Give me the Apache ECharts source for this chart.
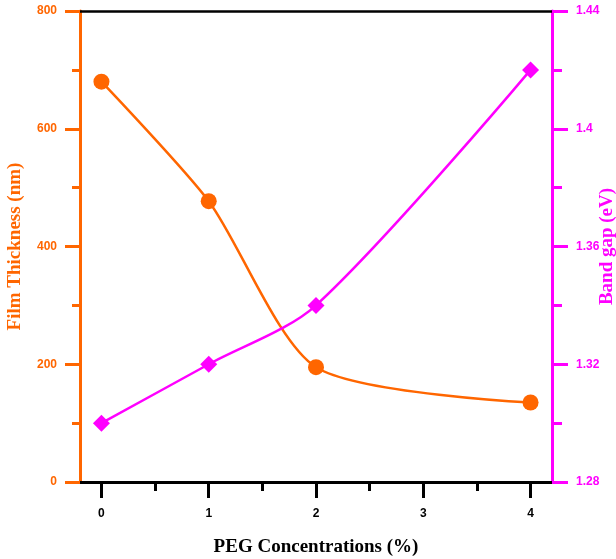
<!DOCTYPE html>
<html>
<head>
<meta charset="utf-8">
<script src="https://cdn.jsdelivr.net/npm/echarts@6/dist/echarts.min.js"></script>
<style>html,body{margin:0;padding:0;background:#fff;}#c{width:616px;height:559px;}</style>
</head>
<body>
<div id="c"></div>
<script>
var concentrations = [0, 1, 2, 4];
var thickness = [680, 477, 195, 135];
var bandGap = [1.30, 1.32, 1.34, 1.42];
var xMajorTicks = [0, 1, 2, 3, 4];
var xMinorTicks = [0.5, 1.5, 2.5, 3.5];

var ORANGE = '#FF6600';
var MAGENTA = '#FF00FF';

var chart = echarts.init(document.getElementById('c'), null, {renderer: 'canvas'});
var labelFont = {fontFamily: 'Liberation Sans', fontWeight: 'bold', fontSize: 12};
var titleFont = {fontFamily: 'Liberation Serif', fontWeight: 'bold', fontSize: 19};

chart.setOption({
  animation: false,
  backgroundColor: '#fff',
  grid: {left: 80, right: 64, top: 11, bottom: 77, containLabel: false, outerBoundsMode: 'none', show: false},
  xAxis: [{
    type: 'value', min: -0.2, max: 4.2, position: 'bottom',
    name: 'PEG Concentrations (%)', nameLocation: 'middle', nameGap: 56, nameMoveOverlap: false,
    nameTextStyle: Object.assign({color: '#000'}, titleFont),
    axisLine: {show: true, onZero: false, lineStyle: {color: '#000', width: 3}},
    axisTick: {show: true, customValues: xMajorTicks, length: 16, lineStyle: {color: '#000', width: 3}},
    axisLabel: Object.assign({show: true, customValues: xMajorTicks, color: '#000', margin: 26}, labelFont),
    splitLine: {show: false}
  }, {
    type: 'value', min: -0.2, max: 4.2, position: 'bottom',
    axisLine: {show: false, onZero: false},
    axisTick: {show: true, customValues: xMinorTicks, length: 9, lineStyle: {color: '#000', width: 3}},
    axisLabel: {show: false},
    splitLine: {show: false}
  }, {
    type: 'value', min: -0.2, max: 4.2, position: 'top',
    axisLine: {show: true, onZero: false, lineStyle: {color: '#000', width: 2.5}},
    axisTick: {show: false},
    axisLabel: {show: false},
    splitLine: {show: false}
  }],
  yAxis: [{
    type: 'value', min: 0, max: 800, interval: 200, position: 'left',
    name: 'Film Thickness (nm)', nameLocation: 'middle', nameGap: 65, nameRotate: 90, nameMoveOverlap: false,
    nameTextStyle: Object.assign({color: ORANGE, verticalAlign: 'middle', align: 'center'}, titleFont),
    axisLine: {show: true, onZero: false, lineStyle: {color: ORANGE, width: 3}},
    axisTick: {show: true, length: 15, lineStyle: {color: ORANGE, width: 3}},
    minorTick: {show: true, splitNumber: 2, length: 8, lineStyle: {color: ORANGE, width: 3}},
    axisLabel: Object.assign({color: ORANGE, margin: 23}, labelFont),
    splitLine: {show: false}
  }, {
    type: 'value', min: 1.28, max: 1.44, interval: 0.04, position: 'right',
    name: 'Band gap (eV)', nameLocation: 'middle', nameGap: 55, nameRotate: 90, nameMoveOverlap: false,
    nameTextStyle: Object.assign({color: MAGENTA, verticalAlign: 'middle', align: 'center'}, titleFont),
    axisLine: {show: true, onZero: false, lineStyle: {color: MAGENTA, width: 3}},
    axisTick: {show: true, length: 16, lineStyle: {color: MAGENTA, width: 3}},
    minorTick: {show: true, splitNumber: 2, length: 10, lineStyle: {color: MAGENTA, width: 3}},
    axisLabel: Object.assign({color: MAGENTA, margin: 24, formatter: function(v){ return String(+v.toFixed(2)); }}, labelFont),
    splitLine: {show: false}
  }],
  series: [{
    type: 'line', xAxisIndex: 0, yAxisIndex: 0,
    data: concentrations.map(function(x, i){ return [x, thickness[i]]; }),
    smooth: 0.25,
    symbol: 'circle', symbolSize: 16,
    lineStyle: {color: ORANGE, width: 2.5},
    itemStyle: {color: ORANGE}
  }, {
    type: 'line', xAxisIndex: 0, yAxisIndex: 1,
    data: concentrations.map(function(x, i){ return [x, bandGap[i]]; }),
    smooth: 0.3,
    symbol: 'diamond', symbolSize: 17,
    lineStyle: {color: MAGENTA, width: 2.5},
    itemStyle: {color: MAGENTA}
  }]
});
</script>
</body>
</html>
